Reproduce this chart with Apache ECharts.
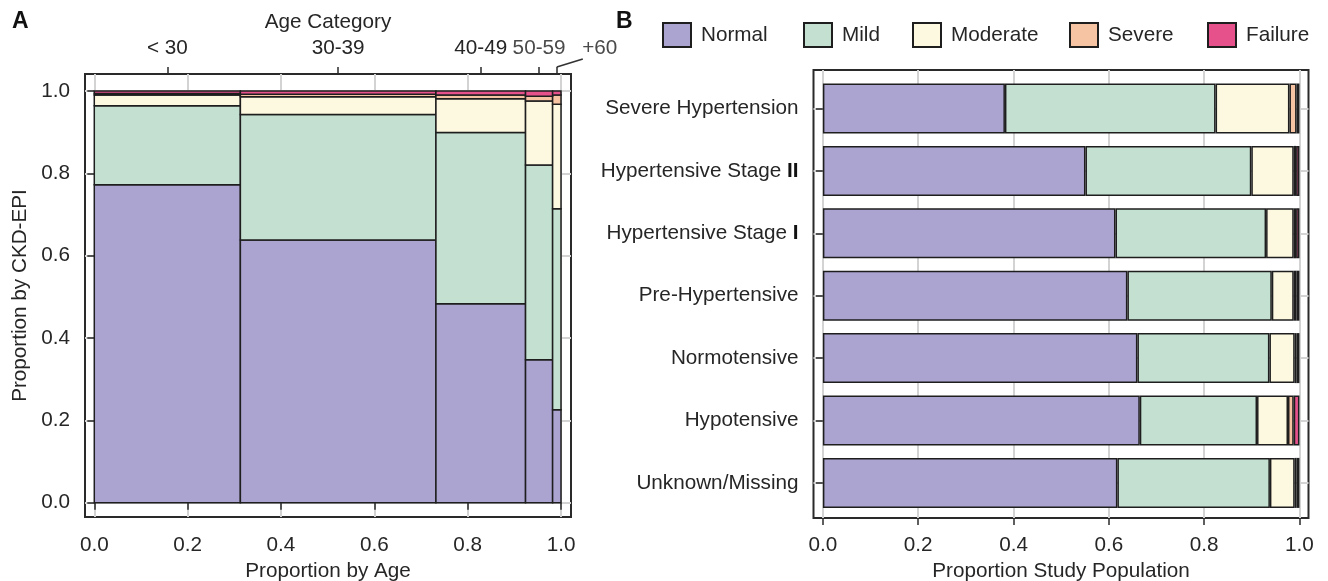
<!DOCTYPE html>
<html>
<head>
<meta charset="utf-8">
<script src="https://cdn.jsdelivr.net/npm/echarts@6/dist/echarts.min.js"></script>
<style>html,body{margin:0;padding:0;background:#fff}#c{width:1328px;height:581px}</style>
</head>
<body>
<div id="c"></div>
<script>
// ---------- DATA ----------
var levels = ['Normal', 'Mild', 'Moderate', 'Severe', 'Failure'];
var xTicks = [0.0, 0.2, 0.4, 0.6, 0.8, 1.0];
var yTicks = [0.0, 0.2, 0.4, 0.6, 0.8, 1.0];

// Panel A: mosaic (share of population by age, CKD-EPI distribution within age group)
var ageGroups = ['< 30', '30-39', '40-49', '50-59', '+60'];
var ageShare = [0.313, 0.419, 0.192, 0.058, 0.018];
var ageNormal   = [0.772, 0.638, 0.483, 0.347, 0.226];
var ageMild     = [0.192, 0.305, 0.416, 0.473, 0.488];
var ageModerate = [0.026, 0.043, 0.082, 0.156, 0.254];
var ageSevere   = [0.004, 0.006, 0.009, 0.011, 0.022];
var ageFailure  = [0.006, 0.008, 0.010, 0.013, 0.010];

// Panel B: stacked proportions by blood-pressure category
var bpCategories = ['Severe Hypertension', 'Hypertensive Stage II', 'Hypertensive Stage I',
  'Pre-Hypertensive', 'Normotensive', 'Hypotensive', 'Unknown/Missing'];
var bpNormal   = [0.382, 0.551, 0.614, 0.639, 0.660, 0.665, 0.618];
var bpMild     = [0.442, 0.348, 0.316, 0.303, 0.277, 0.246, 0.320];
var bpModerate = [0.155, 0.089, 0.058, 0.046, 0.053, 0.065, 0.052];
var bpSevere   = [0.015, 0.005, 0.005, 0.006, 0.004, 0.012, 0.004];
var bpFailure  = [0.006, 0.007, 0.007, 0.006, 0.006, 0.012, 0.006];

// ---------- STYLE ----------
var colors = ['#aba4d1', '#c3e0d1', '#fdf8e0', '#f6c4a3', '#e6518c'];
var FONT = '"Liberation Sans", Arial, sans-serif';
var TXT = '#262626';
var FS = 20.7;
var GRIDC = '#d3d3d3';
var EDGE = '#1e1e1e';

var ageRows = [ageNormal, ageMild, ageModerate, ageSevere, ageFailure];
var bpRows = [bpNormal, bpMild, bpModerate, bpSevere, bpFailure];

// mosaic rectangles
var ageStart = [], ageCenter = [];
(function () {
  var acc = 0;
  for (var i = 0; i < ageShare.length; i++) {
    ageStart.push(acc);
    ageCenter.push(acc + ageShare[i] / 2);
    acc += ageShare[i];
  }
})();
function mosaicData(k) {
  var out = [];
  for (var i = 0; i < ageGroups.length; i++) {
    var base = 0;
    for (var j = 0; j < k; j++) base += ageRows[j][i];
    out.push([ageStart[i], ageStart[i] + ageShare[i], base, base + ageRows[k][i]]);
  }
  return out;
}

var chart = echarts.init(document.getElementById('c'), null, {renderer: 'canvas'});

var axisText = {color: TXT, fontSize: FS, fontFamily: FONT};

var series = [];
levels.forEach(function (name, k) {
  series.push({
    type: 'custom', name: name, xAxisIndex: 0, yAxisIndex: 0,
    itemStyle: {color: colors[k], borderColor: EDGE, borderWidth: 1.5},
    encode: {x: [0, 1], y: [2, 3]},
    data: mosaicData(k),
    renderItem: function (params, api) {
      var p0 = api.coord([api.value(0), api.value(3)]);
      var p1 = api.coord([api.value(1), api.value(2)]);
      return {type: 'rect', shape: {x: p0[0], y: p0[1], width: p1[0] - p0[0], height: p1[1] - p0[1]},
        style: {fill: colors[k], stroke: EDGE, lineWidth: 1.5}};
    }
  });
});
levels.forEach(function (name, k) {
  series.push({
    type: 'bar', name: name, stack: 'bp', xAxisIndex: 2, yAxisIndex: 2,
    barWidth: 50, clip: false,
    itemStyle: {color: colors[k], borderColor: EDGE, borderWidth: 1.5},
    emphasis: {disabled: true},
    data: bpRows[k]
  });
});

var legendLeft = [657, 798, 907, 1064, 1202];
var legends = levels.map(function (n, i) {
  return {
    data: [n], left: legendLeft[i], top: 17, icon: 'rect', itemWidth: 28, itemHeight: 24,
    selectedMode: false,
    textStyle: {color: TXT, fontSize: FS, fontFamily: FONT, padding: [0, 0, 0, 5]}
  };
});

var option = {
  animation: false,
  backgroundColor: '#ffffff',
  title: [
    {text: 'A', left: 7, top: 5, textStyle: {fontSize: 23, fontWeight: 'bold', color: '#111', fontFamily: FONT}},
    {text: 'B', left: 611, top: 5, textStyle: {fontSize: 23, fontWeight: 'bold', color: '#111', fontFamily: FONT}}
  ],
  legend: legends,
  grid: [
    {left: 85, top: 74, width: 486, height: 443, show: true, borderColor: '#2a2a2a', borderWidth: 2,
      backgroundColor: 'transparent', containLabel: false, outerBoundsMode: 'none'},
    {left: 813.5, top: 70, width: 495, height: 448, show: true, borderColor: '#2a2a2a', borderWidth: 2,
      backgroundColor: 'transparent', containLabel: false, outerBoundsMode: 'none'},
    {left: 813.5, top: 108.5, width: 495, height: 374.4, show: false, containLabel: false, outerBoundsMode: 'none'}
  ],
  xAxis: [
    {gridIndex: 0, type: 'value', position: 'bottom', min: -0.0199, max: 1.0214,
      name: 'Proportion by Age', nameLocation: 'middle', nameGap: 44, nameTextStyle: axisText,
      axisLine: {show: false},
      axisTick: {show: true, length: 7, customValues: xTicks, lineStyle: {color: '#2a2a2a', width: 1.5}},
      axisLabel: {customValues: xTicks, margin: 18, color: TXT, fontSize: FS, fontFamily: FONT,
        formatter: function (v) { return v.toFixed(1); }},
      splitLine: {show: true, lineStyle: {color: GRIDC, width: 2}}
    },
    {gridIndex: 0, type: 'value', position: 'top', min: -0.0199, max: 1.0214,
      name: 'Age Category', nameLocation: 'middle', nameGap: 37, nameTextStyle: axisText,
      axisLine: {show: false},
      axisTick: {show: true, length: 7, customValues: ageCenter, lineStyle: {color: '#2a2a2a', width: 1.5}},
      axisLabel: {customValues: ageCenter, margin: 15, color: TXT, fontSize: FS, fontFamily: FONT,
        formatter: function (v) {
          var idx = 0, best = 1e9;
          for (var j = 0; j < ageCenter.length; j++) { var d = Math.abs(ageCenter[j] - v); if (d < best) { best = d; idx = j; } }
          if (idx === 3) return '{g|' + ageGroups[idx] + '}';
          if (idx === 4) return '{r|' + ageGroups[idx] + '}';
          return ageGroups[idx];
        },
        rich: {
          g: {color: '#4a4a4a', fontSize: FS, fontFamily: FONT},
          r: {color: '#4a4a4a', fontSize: FS, fontFamily: FONT, padding: [0, 0, 0, 86]}
        }
      },
      splitLine: {show: false}
    },
    {gridIndex: 2, type: 'value', min: -0.0197, max: 1.019, show: false},
    {gridIndex: 1, type: 'value', position: 'bottom', min: -0.0197, max: 1.019,
      name: 'Proportion Study Population', nameLocation: 'middle', nameGap: 43, nameTextStyle: axisText,
      axisLine: {show: false},
      axisTick: {show: true, length: 7, customValues: xTicks, lineStyle: {color: '#2a2a2a', width: 1.5}},
      axisLabel: {customValues: xTicks, margin: 17, color: TXT, fontSize: FS, fontFamily: FONT,
        formatter: function (v) { return v.toFixed(1); }},
      splitLine: {show: true, lineStyle: {color: GRIDC, width: 2}}
    }
  ],
  yAxis: [
    {gridIndex: 0, type: 'value', min: -0.0347, max: 1.0413,
      name: 'Proportion by CKD-EPI', nameLocation: 'middle', nameGap: 54, nameTextStyle: axisText,
      axisLine: {show: false},
      axisTick: {show: true, length: 7, customValues: yTicks, lineStyle: {color: '#2a2a2a', width: 1.5}},
      axisLabel: {customValues: yTicks, margin: 15, color: TXT, fontSize: FS, fontFamily: FONT,
        formatter: function (v) { return v.toFixed(1); }},
      splitLine: {show: true, lineStyle: {color: GRIDC, width: 2}}
    },
    {gridIndex: 1, type: 'value', show: false, min: 0, max: 1, splitLine: {show: false}},
    {gridIndex: 2, type: 'category', data: bpCategories, inverse: true, boundaryGap: false,
      axisLine: {show: false},
      axisTick: {show: true, length: 7, lineStyle: {color: '#2a2a2a', width: 1.5}},
      axisLabel: {margin: 15, color: TXT, fontSize: FS, fontFamily: FONT,
        formatter: function (v) {
          var m = v.match(/^(.*Stage )(I+)$/);
          return m ? m[1] + '{b|' + m[2] + '}' : v;
        },
        rich: {b: {fontWeight: 'bold', color: '#111', fontSize: FS, fontFamily: FONT}}
      },
      splitLine: {show: true, lineStyle: {color: GRIDC, width: 2}}
    }
  ],
  series: series
};
chart.setOption(option);

// leader line for the "+60" label
var tickPt = chart.convertToPixel({xAxisIndex: 1}, ageCenter[4]);
chart.setOption({
  graphic: [{
    type: 'line', z: 100,
    shape: {x1: tickPt, y1: 67, x2: tickPt + 26, y2: 59},
    style: {stroke: '#333', lineWidth: 1.5}
  }]
});
</script>
</body>
</html>
